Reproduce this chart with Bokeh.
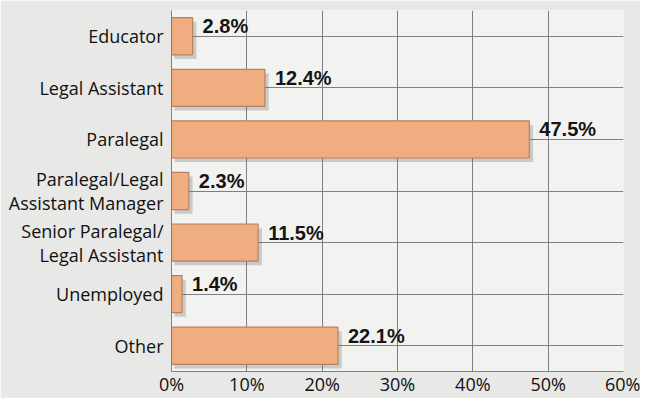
from bokeh.plotting import figure
from bokeh.models import FixedTicker, Range1d, FactorRange, ColumnDataSource
from bokeh.transform import dodge
from bokeh.core.properties import value
from bokeh.embed import file_html
from bokeh.resources import INLINE

categories = ["Educator", "Legal Assistant", "Paralegal",
              "Paralegal/Legal\nAssistant Manager",
              "Senior Paralegal/\nLegal Assistant", "Unemployed", "Other"]
percents = [2.8, 12.4, 47.5, 2.3, 11.5, 1.4, 22.1]
value_labels = ["2.8%", "12.4%", "47.5%", "2.3%", "11.5%", "1.4%", "22.1%"]
x_ticks = [0, 10, 20, 30, 40, 50, 60]
x_tick_labels = ["0%", "10%", "20%", "30%", "40%", "50%", "60%"]

src = ColumnDataSource(dict(cat=categories, val=percents, lab=value_labels,
                            shadow_right=[v + 0.5 for v in percents]))

p = figure(width=640, height=398, output_backend="svg", toolbar_location=None,
           y_range=FactorRange(factors=list(reversed(categories)), range_padding=0),
           x_range=Range1d(0, 60),
           min_border_left=171, min_border_right=17, min_border_top=10, min_border_bottom=0)

p.background_fill_color = "#f2f2f1"
p.border_fill_color = "#e8e8e7"
p.outline_line_color = None

# grid
p.xgrid.ticker = FixedTicker(ticks=x_ticks)
p.xgrid.grid_line_color = "#808080"
p.xgrid.grid_line_width = 1
p.ygrid.grid_line_color = "#808080"
p.ygrid.grid_line_width = 1

# shadow
p.hbar(y=dodge("cat", -0.08, range=p.y_range), left=0.4, right="shadow_right",
       height=0.72, source=src, fill_color="#555555", fill_alpha=0.25, line_color=None)
# bars
p.hbar(y="cat", left=0, right="val", height=0.72, source=src,
       fill_color="#efad80", line_color="#b9805e", line_width=1.2)

p.text(x="val", y="cat", text="lab", source=src, x_offset=10, y_offset=-10,
       text_font=value("Liberation Sans"), text_font_style="bold",
       text_font_size="20px", text_color="#151515",
       text_align="left", text_baseline="middle")

# axes
for ax in (p.xaxis, p.yaxis):
    ax.axis_line_color = "#808080"
    ax.major_tick_line_color = None
    ax.minor_tick_line_color = None
    ax.major_tick_out = 0
    ax.major_tick_in = 0
    ax.minor_tick_out = 0
    ax.minor_tick_in = 0
    ax.major_label_text_font = "Open Sans"
    ax.major_label_text_font_size = "18px"
    ax.major_label_text_color = "#111111"

p.xaxis.ticker = FixedTicker(ticks=x_ticks)
p.xaxis.major_label_overrides = dict(zip(x_ticks, x_tick_labels))
p.xaxis.major_label_standoff = 0

p.yaxis.major_label_standoff = 8
p.yaxis.major_label_text_line_height = 1.0

open("out.html", "w").write(file_html(p, INLINE))
